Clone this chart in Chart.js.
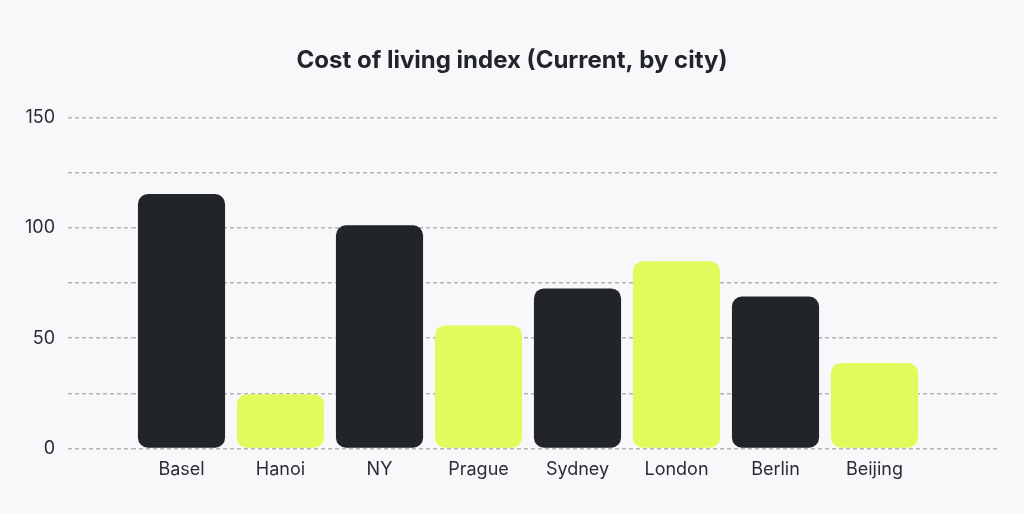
<!DOCTYPE html>
<html lang="en">
<head>
    <meta charset="UTF-8">
    <title>Cost of living index</title>
    <script src="https://cdn.jsdelivr.net/npm/chart.js"></script>
    <style>
        html, body { margin: 0; padding: 0; background: #f8f8fa; }
        .wrap { width: 1024px; height: 514px; }
    </style>
</head>
<body>
    <div class="wrap">
        <canvas id="costChart"></canvas>
    </div>

    <script>
        // Data
        const cities = ['Basel', 'Hanoi', 'NY', 'Prague', 'Sydney', 'London', 'Berlin', 'Beijing'];
        const costIndex = [115.4, 24.6, 101.2, 55.8, 72.6, 84.9, 68.9, 38.8];
        const barColors = ['#212428', '#e2fa5b', '#212428', '#e2fa5b', '#212428', '#e2fa5b', '#212428', '#e2fa5b'];
        const yLabelValues = [0, 50, 100, 150];

        const gridColor = '#b4b4b6';

        const ctx = document.getElementById('costChart').getContext('2d');
        const costChart = new Chart(ctx, {
            type: 'bar',
            data: {
                labels: cities,
                datasets: [{
                    label: 'Cost of living index',
                    data: costIndex,
                    backgroundColor: barColors,
                    borderRadius: 10,
                    borderSkipped: false,
                    barPercentage: 0.88,
                    categoryPercentage: 1
                }]
            },
            options: {
                responsive: true,
                maintainAspectRatio: false,
                animation: false,
                layout: { padding: { left: 25, right: 25, top: 0, bottom: 24 } },
                plugins: {
                    legend: { display: false },
                    tooltip: { enabled: false },
                    title: {
                        display: true,
                        text: 'Cost of living index (Current, by city)',
                        color: '#212428',
                        font: { family: 'Inter', size: 24, weight: 'bold' },
                        padding: { top: 46, bottom: 43 }
                    }
                },
                scales: {
                    x: {
                        grid: { display: false, drawTicks: false },
                        border: { display: false },
                        ticks: {
                            color: '#2a2d33',
                            font: { family: 'Inter', size: 18 },
                            padding: 10
                        }
                    },
                    y: {
                        min: 0,
                        max: 150,
                        // fixed width so the plot starts where the reference does
                        afterFit: (scale) => { scale.width = 107; },
                        grid: {
                            color: gridColor,
                            tickColor: gridColor,
                            tickLength: 67,
                            tickBorderDash: [4, 3],
                            tickBorderDashOffset: 4,
                            lineWidth: 1.5
                        },
                        border: { display: false, dash: [4, 3] },
                        ticks: {
                            stepSize: 25,
                            padding: 10,
                            color: '#2a2d33',
                            font: { family: 'Inter', size: 18 },
                            callback: (v) => yLabelValues.includes(v) ? String(v) : ''
                        }
                    },
                    // right axis only draws the dashed line stubs past the last bar
                    yRight: {
                        position: 'right',
                        min: 0,
                        max: 150,
                        border: { display: false },
                        grid: {
                            drawOnChartArea: false,
                            tickColor: gridColor,
                            tickLength: 75,
                            tickBorderDash: [4, 3],
                            tickBorderDashOffset: 1,
                            lineWidth: 1.5
                        },
                        ticks: { display: false, stepSize: 25 }
                    }
                }
            }
        });
    </script>
</body>
</html>
